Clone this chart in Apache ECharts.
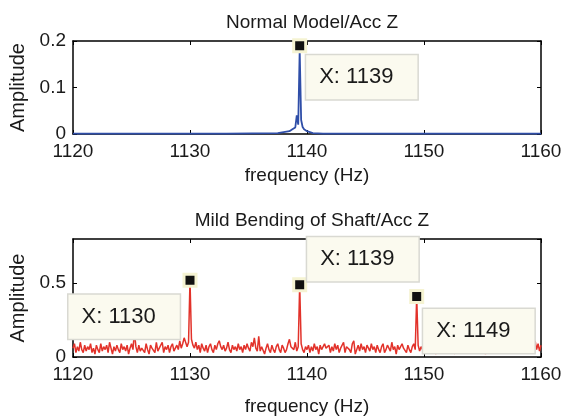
<!DOCTYPE html>
<html>
<head>
<meta charset="utf-8">
<script src="https://cdn.jsdelivr.net/npm/echarts@6/dist/echarts.min.js"></script>
<style>
  html, body { margin: 0; padding: 0; background: #fff; }
  #spectrum { width: 574px; height: 419px; }
</style>
</head>
<body>
<div id="spectrum"></div>
<script>
// 频谱数据
var freqStart = 1120;
var freqStep = 0.125;

// 正常模型：几乎全是 0，只在 1139 附近有尖峰
var normalFreq = [1120, 1122.875, 1123, 1123.125, 1132.875, 1133, 1133.125, 1137.5, 1138, 1138.5, 1138.75,
    1139, 1139.125, 1139.25, 1139.375, 1139.5, 1139.625, 1139.75, 1140, 1140.25, 1140.5,
    1141.375, 1141.5, 1141.625, 1149.125, 1149.25, 1149.375, 1155.75, 1155.875, 1156, 1160];
var normalAmp = [0.001, 0.001, 0.004, 0.001, 0.001, 0.003, 0.001, 0.002, 0.004, 0.006, 0.010,
    0.014, 0.040, 0.020, 0.180, 0.030, 0.015, 0.010, 0.006, 0.004, 0.002,
    0.001, 0.004, 0.001, 0.001, 0.004, 0.001, 0.001, 0.002, 0.001, 0.001];

// 轴轻微弯曲：每 0.125 Hz 一个点
var faultAmp = [
    .06,.09,.03,.07,.04,.10,.05,.03,.08,.04,.07,.05,.09,.03,.06,.02,
    .08,.05,.03,.09,.04,.07,.05,.08,.03,.10,.06,.02,.07,.04,.08,.05,
    .03,.09,.05,.07,.04,.08,.02,.06,.09,.05,.17,.07,.03,.08,.04,.06,
    .07,.03,.09,.05,.02,.08,.06,.07,.03,.10,.04,.06,.05,.10,.03,.07,
    .05,.08,.03,.07,.09,.04,.06,.08,.05,.11,.06,.09,.13,.10,.07,.10,
    .52,.12,.08,.06,.10,.05,.08,.03,.09,.06,.04,.08,.03,.07,.09,.05,
    .03,.08,.05,.09,.11,.07,.05,.08,.04,.06,.10,.05,.03,.08,.05,.07,
    .04,.09,.05,.07,.03,.08,.05,.09,.06,.04,.10,.07,.13,.06,.04,.14,
    .04,.07,.08,.02,.06,.09,.05,.03,.08,.05,.03,.07,.09,.05,.03,.08,
    .06,.03,.05,.09,.12,.07,.08,.05,.10,.04,.07,.49,.09,.05,.03,.07,
    .05,.08,.03,.07,.04,.09,.05,.07,.02,.08,.05,.04,.09,.06,.05,.08,
    .03,.07,.04,.09,.05,.08,.03,.06,.05,.10,.03,.07,.08,.05,.03,.09,
    .11,.02,.05,.08,.04,.09,.05,.07,.03,.08,.06,.04,.09,.05,.07,.03,
    .08,.05,.03,.07,.09,.03,.05,.08,.06,.04,.10,.05,.07,.02,.08,.05,
    .04,.09,.06,.05,.03,.08,.05,.03,.07,.09,.05,.41,.08,.04,.07,.05,
    .08,.03,.07,.05,.09,.04,.06,.08,.02,.05,.09,.06,.03,.08,.05,.03,
    .07,.09,.04,.05,.08,.02,.12,.05,.09,.04,.08,.06,.03,.05,.09,.04,
    .07,.05,.08,.03,.09,.05,.03,.06,.08,.05,.02,.07,.09,.04,.05,.08,
    .06,.03,.05,.09,.04,.08,.05,.07,.12,.09,.05,.04,.08,.06,.03,.05,
    .09,.06,.04,.08,.05,.03,.07,.09,.05,.04,.08,.06,.11,.05,.09,.04,
    .08
];

// 数据游标（data tip）
var normalTipFreq = [1139.375];
var normalTipAmp = [0.19];
var faultTipFreq = [1130, 1139.375, 1149.375];
var faultTipAmp = [0.52, 0.49, 0.41];

var xTicks = { min: 1120, max: 1160, interval: 10 };
var yTopTicks = { min: 0, max: 0.2, interval: 0.1, showMax: true };
var yBottomTicks = { min: 0, max: 0.8, interval: 0.5, showMax: false };

var fontFamily = '"Liberation Sans", Arial, sans-serif';
var inkColor = '#1a1a1a';

function zip(xs, ys) {
    return xs.map(function (x, i) { return [x, ys[i]]; });
}
var faultFreq = faultAmp.map(function (v, i) { return freqStart + i * freqStep; });

// 标签偏移（相对于方块左上角）
var normalTipOffsets = [[14, 17]];
var faultTipOffsets = [[-114, 22], [15, -40], [14, 20]];

function tipData(freqs, amps, offsets) {
    return freqs.map(function (f, i) {
        return {
            value: [f, amps[i]],
            label: { position: offsets[i] }
        };
    });
}

var tipStyle = {
    type: 'scatter',
    symbol: 'rect',
    symbolSize: 12,
    z: 10,
    itemStyle: { color: '#111', borderColor: '#f5f3d2', borderWidth: 3, opacity: 1 },
    label: {
        show: true,
        formatter: function (p) { return 'X: ' + Math.round(p.value[0]); },
        color: inkColor,
        fontFamily: fontFamily,
        fontSize: 22,
        backgroundColor: '#fbfaef',
        borderColor: '#d9d9d2',
        borderWidth: 1.5,
        padding: [11, 24, 11, 13]
    },
    emphasis: { disabled: true },
    silent: true
};

function mainX(gridIndex, nameGap) {
    return {
        type: 'value', gridIndex: gridIndex,
        min: xTicks.min, max: xTicks.max, interval: xTicks.interval,
        name: 'frequency (Hz)', nameLocation: 'middle', nameGap: nameGap,
        nameTextStyle: { color: inkColor, fontSize: 19, fontFamily: fontFamily },
        axisLine: { onZero: false, lineStyle: { color: '#000', width: 1.5 } },
        axisTick: { inside: true, length: 4, lineStyle: { color: '#000' } },
        axisLabel: { color: inkColor, fontSize: 19, fontFamily: fontFamily, margin: 8,
            formatter: function (v) { return String(v); } },
        splitLine: { show: false }
    };
}
function boxX(gridIndex) {
    return {
        type: 'value', gridIndex: gridIndex, position: 'top',
        min: xTicks.min, max: xTicks.max, interval: xTicks.interval,
        axisLine: { onZero: false, lineStyle: { color: '#000', width: 1.5 } },
        axisTick: { inside: true, length: 4, lineStyle: { color: '#000' } },
        axisLabel: { show: false },
        splitLine: { show: false }
    };
}
function mainY(gridIndex, ticks) {
    return {
        type: 'value', gridIndex: gridIndex,
        min: ticks.min, max: ticks.max, interval: ticks.interval,
        name: 'Amplitude', nameLocation: 'middle', nameGap: 41, nameRotate: 90,
        nameTextStyle: { color: inkColor, fontSize: 20, fontFamily: fontFamily },
        axisLine: { show: true, onZero: false, lineStyle: { color: '#000', width: 1.5 } },
        axisTick: { show: true, inside: true, length: 4, lineStyle: { color: '#000' } },
        axisLabel: { color: inkColor, fontSize: 19, fontFamily: fontFamily, margin: 7, showMaxLabel: ticks.showMax },
        splitLine: { show: false }
    };
}
function boxY(gridIndex, ticks) {
    return {
        type: 'value', gridIndex: gridIndex, position: 'right',
        min: ticks.min, max: ticks.max, interval: ticks.interval,
        axisLine: { show: true, onZero: false, lineStyle: { color: '#000', width: 1.5 } },
        axisTick: { show: true, inside: true, length: 4, lineStyle: { color: '#000' } },
        axisLabel: { show: false },
        splitLine: { show: false }
    };
}

var spectrumChart = echarts.init(document.getElementById('spectrum'));
var spectrumOption = {
    backgroundColor: '#fff',
    animation: false,
    title: [
        { text: 'Normal Model/Acc Z', left: 307, top: 8, textAlign: 'center',
          textStyle: { color: inkColor, fontSize: 19, fontWeight: 'normal', fontFamily: fontFamily } },
        { text: 'Mild Bending of Shaft/Acc Z', left: 307, top: 206, textAlign: 'center',
          textStyle: { color: inkColor, fontSize: 19, fontWeight: 'normal', fontFamily: fontFamily } }
    ],
    grid: [
        { left: 73, right: 33, top: 41, height: 93 },
        { left: 73, right: 33, top: 239, height: 118 }
    ],
    xAxis: [mainX(0, 32), boxX(0), mainX(1, 40), boxX(1)],
    yAxis: [mainY(0, yTopTicks), boxY(0, yTopTicks), mainY(1, yBottomTicks), boxY(1, yBottomTicks)],
    series: [
        {
            name: 'Normal', type: 'line', xAxisIndex: 0, yAxisIndex: 0,
            data: zip(normalFreq, normalAmp), showSymbol: false,
            lineStyle: { color: '#2f4ea8', width: 1.8 }, silent: true
        },
        Object.assign({}, tipStyle, {
            name: 'Normal tip', xAxisIndex: 0, yAxisIndex: 0,
            data: tipData(normalTipFreq, normalTipAmp, normalTipOffsets)
        }),
        {
            name: 'Mild bending', type: 'line', xAxisIndex: 2, yAxisIndex: 2,
            data: zip(faultFreq, faultAmp), showSymbol: false,
            lineStyle: { color: '#e2322a', width: 1.5 }, silent: true
        },
        Object.assign({}, tipStyle, {
            name: 'Bending tips', xAxisIndex: 2, yAxisIndex: 2,
            data: tipData(faultTipFreq, faultTipAmp, faultTipOffsets)
        })
    ]
};
spectrumChart.setOption(spectrumOption);
window.onresize = spectrumChart.resize;
</script>
</body>
</html>
